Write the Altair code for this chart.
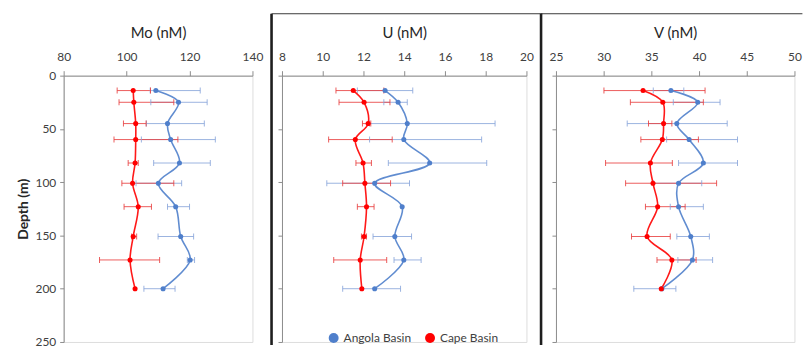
import altair as alt
import pandas as pd

# ---------------- data ----------------
depth = [14, 25, 45, 60, 82, 101, 123, 151, 173, 200]
series_names = ["Angola Basin", "Cape Basin"]

mo_angola = [109.3, 116.5, 113.0, 114.0, 116.8, 110.1, 115.6, 117.2, 120.2, 111.6]
mo_angola_lo = [107.5, 107.7, 106.3, 104.7, 108.6, 103.0, 113.0, 110.0, 119.3, 105.5]
mo_angola_hi = [123.4, 125.6, 124.7, 128.2, 126.6, 117.5, 120.0, 121.3, 121.6, 115.4]
mo_cape = [102.1, 102.3, 102.9, 102.9, 102.7, 101.9, 103.7, 102.1, 101.1, 102.7]
mo_cape_lo = [97.0, 97.6, 99.0, 96.0, 100.5, 98.5, 99.2, 101.6, 91.4, None]
mo_cape_hi = [107.6, 115.0, 106.2, 116.3, 103.7, 115.0, 107.9, 103.2, 110.5, None]

u_angola = [13.06, 13.70, 14.15, 13.98, 15.25, 12.55, 13.90, 13.54, 13.98, 12.55]
u_angola_lo = [11.7, 13.0, 12.3, 12.3, 13.22, 10.2, None, 12.47, 13.5, 10.98]
u_angola_hi = [14.42, 14.15, 18.46, 17.8, 18.05, 14.26, None, 14.36, 14.83, 13.82]
u_cape = [11.50, 12.03, 12.23, 11.60, 11.98, 12.07, 12.15, 12.03, 11.84, 11.92]
u_cape_lo = [10.65, 10.8, 11.95, 10.29, 11.63, 10.98, 11.7, 11.9, 10.54, None]
u_cape_hi = [13.0, 13.3, 12.36, 13.41, 12.39, 13.33, 12.52, 12.15, 13.14, None]

v_angola = [37.05, 39.86, 37.67, 38.96, 40.45, 37.85, 37.85, 39.13, 39.30, 36.10]
v_angola_lo = [35.2, 37.3, 32.47, 36.6, 37.85, 35.24, 36.98, 37.67, 37.78, 33.16]
v_angola_hi = [38.4, 42.2, 42.95, 44.03, 44.03, 40.28, 40.45, 41.08, 41.42, 37.57]
v_cape = [34.13, 36.20, 36.28, 36.15, 34.90, 35.17, 35.66, 34.55, 37.15, 36.04]
v_cape_lo = [30.03, 32.8, 34.7, 33.9, 30.2, 32.3, 34.38, 32.92, 35.59, None]
v_cape_hi = [40.63, 40.45, 37.15, 39.93, 37.2, 41.84, 38.54, 36.98, 39.69, None]

mo_ticks = [80, 100, 120, 140]
u_ticks = [8, 10, 12, 14, 16, 18, 20]
v_ticks = [25, 30, 35, 40, 45, 50]
depth_ticks = [0, 50, 100, 150, 200, 250]

# ---------------- styling ----------------
FONT = "Lato"
line_colors = ["#4F7FCB", "#FF0000"]
bar_colors = ["#89A6DA", "#E84040"]
AXIS_GRAY = "#8C8C8C"
LABEL_COLOR = "#404040"
PLOT_H = 268


def table(va, la, ha, vc, lc, hc):
    rows = []
    for name, vals, los, his in ((series_names[0], va, la, ha), (series_names[1], vc, lc, hc)):
        for d, v, lo, hi in zip(depth, vals, los, his):
            rows.append({"series": name, "depth": d, "value": v, "lo": lo, "hi": hi})
    return pd.DataFrame(rows)


def panel(df, title, domain, ticks, width, first, legend, frame_dx=None, frame_right=None):
    xscale = alt.Scale(domain=domain, nice=False, zero=False)
    xaxis = alt.Axis(orient="top", values=ticks, title=title, grid=False,
                     tickSize=5, labelPadding=7, labelFontSize=12, labelColor=LABEL_COLOR,
                     labelFont=FONT, titleFont=FONT, titleFontSize=15, titleFontWeight="normal",
                     titleColor="#262626", titlePadding=10, domainColor=AXIS_GRAY,
                     tickColor=AXIS_GRAY, labelFlush=False)
    if first:
        yaxis = alt.Axis(values=depth_ticks, title="Depth (m)", grid=False, tickSize=4,
                         labelPadding=4, labelFontSize=12, labelColor=LABEL_COLOR, labelFont=FONT,
                         titleFont=FONT, titleFontSize=14, titleFontWeight="bold",
                         titleColor="#262626", titlePadding=4, domainColor=AXIS_GRAY,
                         tickColor=AXIS_GRAY)
    else:
        yaxis = alt.Axis(values=depth_ticks, title=None, labels=False, grid=False, tickSize=4,
                         domainColor=AXIS_GRAY, tickColor=AXIS_GRAY)
    yscale = alt.Scale(domain=[0, 250], reverse=True, nice=False)

    base = alt.Chart(df)
    x = alt.X("value:Q", scale=xscale, axis=xaxis)
    y = alt.Y("depth:Q", scale=yscale, axis=yaxis)
    bar_col = alt.Color("series:N", scale=alt.Scale(domain=series_names, range=bar_colors), legend=None)

    bars = base.mark_rule(strokeWidth=1, opacity=0.85).encode(
        x=alt.X("lo:Q", scale=xscale, axis=xaxis), x2="hi:Q", y=y, color=bar_col)
    caps_lo = base.mark_tick(orient="vertical", size=6, thickness=1, opacity=0.85).encode(
        x=alt.X("lo:Q", scale=xscale, axis=xaxis), y=y, color=bar_col)
    caps_hi = base.mark_tick(orient="vertical", size=6, thickness=1, opacity=0.85).encode(
        x=alt.X("hi:Q", scale=xscale, axis=xaxis), y=y, color=bar_col)

    if legend:
        leg_s = alt.Legend(orient="bottom", offset=-14, direction="horizontal",
                           labelFont=FONT, labelFontSize=12, labelColor=LABEL_COLOR,
                           symbolType="stroke", symbolStrokeWidth=1.8, columnPadding=12)
        stroke = alt.Stroke("series:N", scale=alt.Scale(domain=series_names, range=line_colors),
                            legend=leg_s, title=None)
        leg_f = alt.Legend(orient="none", legendX=46, legendY=258, direction="horizontal",
                           labelFont=FONT, labelFontSize=12, labelColor=LABEL_COLOR,
                           symbolType="circle", columnPadding=12)
        fill = alt.Fill("series:N", scale=alt.Scale(domain=series_names, range=line_colors),
                        legend=leg_f, title=None)
    else:
        stroke = alt.Stroke("series:N", scale=alt.Scale(domain=series_names, range=line_colors),
                            legend=None)
        fill = alt.Fill("series:N", scale=alt.Scale(domain=series_names, range=line_colors), legend=None)
    line = base.mark_line(interpolate="catmull-rom", strokeWidth=1.6, opacity=0.9).encode(
        x=x, y=y, stroke=stroke, order="depth:Q")
    pts = base.mark_point(filled=True, opacity=1, size=26).encode(x=x, y=y, fill=fill)

    layers = [bars, caps_lo, caps_hi, line, pts]
    if frame_dx is not None:
        one = alt.Chart(alt.Data(values=[{"k": 0}]))
        left = one.mark_rule(color="#1E1E1E", strokeWidth=2.6).encode(
            x=alt.value(frame_dx), y=alt.value(-62.3), y2=alt.value(PLOT_H + 3))
        top = one.mark_rule(color="#3A3A3A", strokeWidth=1).encode(
            x=alt.value(frame_dx), x2=alt.value(frame_right), y=alt.value(-62.3))
        layers = [left, top] + layers
    return alt.layer(*layers).properties(width=width, height=PLOT_H)


df_mo = table(mo_angola, mo_angola_lo, mo_angola_hi, mo_cape, mo_cape_lo, mo_cape_hi)
df_u = table(u_angola, u_angola_lo, u_angola_hi, u_cape, u_cape_lo, u_cape_hi)
df_v = table(v_angola, v_angola_lo, v_angola_hi, v_cape, v_cape_lo, v_cape_hi)

p1 = panel(df_mo, "Mo (nM)", [80, 140], mo_ticks, 190, True, False)
p2 = panel(df_u, "U (nM)", [8, 20], u_ticks, 246, False, True, frame_dx=-10.5, frame_right=262)
p3 = panel(df_v, "V (nM)", [25, 50], v_ticks, 240, False, False, frame_dx=-15, frame_right=248)

chart = alt.HConcatChart(hconcat=[p1, p2, p3], spacing=29.7, bounds="flush").resolve_scale(
    fill="independent", color="independent", stroke="independent"
).resolve_legend(stroke="independent", fill="independent").properties(
    padding={"left": 8, "top": 2, "right": 0, "bottom": 0}
).configure_view(stroke=None).configure(background="white")

chart.save("out.html", embed_options={"renderer": "svg", "actions": False})
